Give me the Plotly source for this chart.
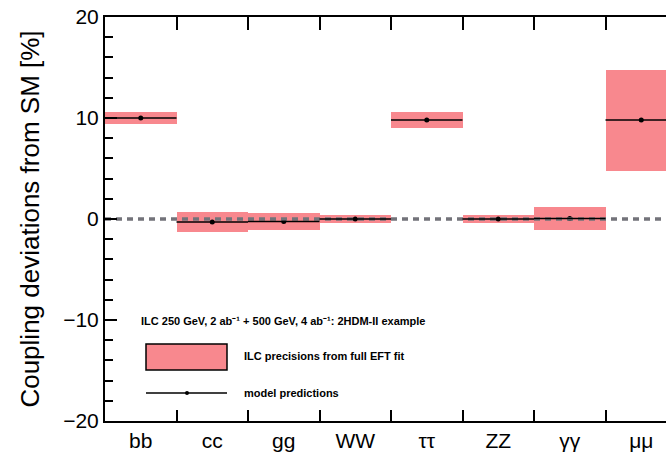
import plotly.graph_objects as go

# Coupling channels and the 2HDM-II example values (in %)
channels = ["bb", "cc", "gg", "WW", "ττ", "ZZ", "γγ", "μμ"]
model_pred = [10.0, -0.3, -0.25, 0.0, 9.8, 0.0, 0.05, 9.8]
ilc_precision = [0.55, 1.0, 0.8, 0.4, 0.8, 0.35, 1.15, 5.0]

y_ticks = [-20, -10, 0, 10, 20]

key_title = "<b>ILC 250 GeV, 2 ab⁻¹ + 500 GeV, 4 ab⁻¹: 2HDM-II example</b>"
key_band = "<b>ILC precisions from full EFT fit</b>"
key_line = "<b>model predictions</b>"

PINK = "rgb(248,136,142)"
FONT = "Liberation Sans, Arial, Helvetica, sans-serif"

n = len(channels)
xs = list(range(n))
bounds = [i + 0.5 for i in xs]
x_lo, x_hi = -0.5, 7.346

# frame geometry in pixels
L, R, T, B = 105, 666, 17, 421
PW, PH = R - L, B - T


def px(x):
    return (x - L) / PW


def py(y):
    return (B - y) / PH


fig = go.Figure()

# precision bands, centred on the model prediction
fig.add_trace(go.Bar(
    x=xs,
    y=[2 * e for e in ilc_precision],
    base=[m - e for m, e in zip(model_pred, ilc_precision)],
    width=1.0,
    marker=dict(color=PINK, line=dict(width=0)),
    showlegend=False,
    hoverinfo="skip",
))

# SM reference line at zero (drawn on the overlaid bottom tick axis, same range)
fig.add_trace(go.Scatter(
    x=[x_lo, x_hi], y=[0, 0], mode="lines", xaxis="x2",
    line=dict(color="rgb(115,115,122)", width=3.5, dash="6px,5px"),
    showlegend=False, hoverinfo="skip",
))

# model predictions: a segment across each channel plus a dot at its centre
seg_x, seg_y = [], []
for i, m in enumerate(model_pred):
    seg_x += [i - 0.5, i + 0.5, None]
    seg_y += [m, m, None]
fig.add_trace(go.Scatter(
    x=seg_x, y=seg_y, mode="lines", xaxis="x3",
    line=dict(color="black", width=1.6),
    showlegend=False, hoverinfo="skip",
))
fig.add_trace(go.Scatter(
    x=xs, y=model_pred, mode="markers",
    marker=dict(color="black", size=5),
    showlegend=False, hoverinfo="skip",
))

# key: filled box, line with a dot
shapes = [
    dict(type="rect", xref="paper", yref="paper",
         x0=px(146), x1=px(227), y0=py(370), y1=py(344),
         fillcolor=PINK, line=dict(color="black", width=1.5)),
    dict(type="line", xref="paper", yref="paper",
         x0=px(146), x1=px(227), y0=py(393), y1=py(393),
         line=dict(color="black", width=1.3)),
    dict(type="circle", xref="paper", yref="paper",
         x0=px(185), x1=px(189), y0=py(395), y1=py(391),
         fillcolor="black", line=dict(color="black", width=0)),
]

annotations = [
    dict(xref="paper", yref="paper", x=px(139), y=py(321),
         xanchor="left", yanchor="middle", showarrow=False,
         text=key_title, font=dict(size=11, color="black", family=FONT)),
    dict(xref="paper", yref="paper", x=px(242), y=py(356),
         xanchor="left", yanchor="middle", showarrow=False,
         text=key_band, font=dict(size=11, color="black", family=FONT)),
    dict(xref="paper", yref="paper", x=px(242), y=py(393),
         xanchor="left", yanchor="middle", showarrow=False,
         text=key_line, font=dict(size=11, color="black", family=FONT)),
]

fig.update_layout(
    width=666, height=461,
    margin=dict(l=L, r=0, t=T, b=461 - B),
    paper_bgcolor="white", plot_bgcolor="white",
    font=dict(family=FONT, color="black"),
    bargap=0,
    shapes=shapes,
    annotations=annotations,
    xaxis=dict(
        range=[x_lo, x_hi],
        tickvals=xs, ticktext=channels, ticks="",
        tickfont=dict(size=21, color="black"),
        showline=True, linecolor="black", linewidth=2,
        showgrid=False, zeroline=False,
    ),
    # channel boundary ticks along the bottom edge
    xaxis2=dict(
        overlaying="x", anchor="y", side="bottom", range=[x_lo, x_hi],
        tickvals=bounds, ticks="inside", ticklen=11, tickwidth=1.5,
        tickcolor="black", showticklabels=False,
        showline=False, showgrid=False, zeroline=False,
    ),
    # top edge of the frame with its boundary ticks
    xaxis3=dict(
        overlaying="x", anchor="y", side="top", range=[x_lo, x_hi],
        tickvals=bounds, ticks="inside", ticklen=13, tickwidth=1.5,
        tickcolor="black", showticklabels=False,
        showline=True, linecolor="black", linewidth=2,
        showgrid=False, zeroline=False,
    ),
    yaxis=dict(
        range=[-20, 20], tickvals=y_ticks,
        ticks="inside", ticklen=12, tickwidth=1.5, tickcolor="black",
        tickfont=dict(size=21, color="black"),
        showline=True, linecolor="black", linewidth=2,
        showgrid=False, zeroline=False,
        minor=dict(dtick=2, ticks="inside", ticklen=8, tickwidth=1.5,
                   tickcolor="black"),
        title=dict(text="Coupling deviations from SM [%]",
                   font=dict(size=26, color="black", family=FONT),
                   standoff=16),
    ),
)

fig.write_html("out.html")
